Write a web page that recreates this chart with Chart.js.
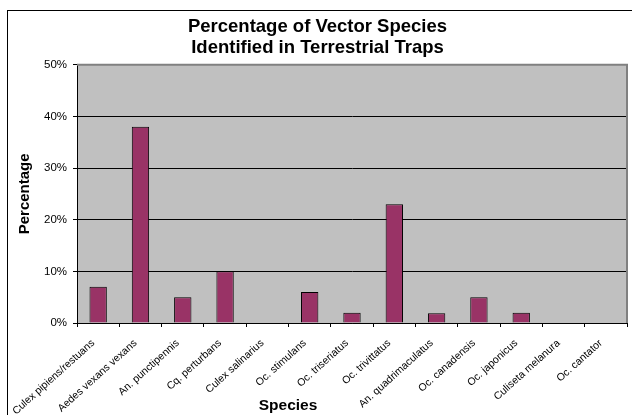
<!DOCTYPE html>
<html>
<head>
<meta charset="utf-8">
<script src="https://cdn.jsdelivr.net/npm/chart.js@4.4.0/dist/chart.umd.min.js"></script>
<style>
  html, body { margin: 0; padding: 0; background: #fff; }
  canvas { display: block; }
</style>
</head>
<body>
<canvas id="chart" width="632" height="415"></canvas>
<script>
// values
const species = ['Culex pipiens/restuans', 'Aedes vexans vexans', 'An. punctipennis', 'Cq. perturbans',
  'Culex salinarius', 'Oc. stimulans', 'Oc. triseriatus', 'Oc. trivittatus', 'An. quadrimaculatus',
  'Oc. canadensis', 'Oc. japonicus', 'Culiseta melanura', 'Oc. cantator'];
const percentages = [7, 38, 5, 10, 0, 6, 2, 23, 1.9, 5, 2, 0, 0];
const yTicks = [0, 10, 20, 30, 40, 50];
const titleLines = ['Percentage of Vector Species', 'Identified in Terrestrial Traps'];

const FONT = "'Liberation Sans', Arial, sans-serif";

// grey plot background and the outer frame
const backdrop = {
  id: 'backdrop',
  beforeDraw(chart) {
    const c = chart.ctx, a = chart.chartArea;
    c.save();
    c.fillStyle = '#fff';
    c.fillRect(0, 0, chart.width, chart.height);
    c.strokeStyle = '#000';
    c.lineWidth = 1;
    c.strokeRect(7.5, 10.5, chart.width + 10, chart.height + 10);
    c.fillStyle = '#c0c0c0';
    c.fillRect(a.left, a.top, a.right - a.left, a.bottom - a.top);
    c.restore();
  },
  afterDraw(chart) {
    const c = chart.ctx, a = chart.chartArea;
    c.save();
    c.strokeStyle = '#808080';
    c.lineWidth = 2;
    c.beginPath();
    c.moveTo(a.left, a.top);
    c.lineTo(a.right, a.top);
    c.lineTo(a.right, a.bottom);
    c.stroke();
    // x axis title, placed like the original (not centred on the plot)
    c.fillStyle = '#000';
    c.font = 'bold 15.5px ' + FONT;
    c.textAlign = 'center';
    c.textBaseline = 'middle';
    c.fillText('Species', 288, 406);
    c.restore();
  }
};

new Chart(document.getElementById('chart'), {
  type: 'bar',
  data: {
    labels: species,
    datasets: [{
      data: percentages,
      backgroundColor: '#993366',
      borderColor: '#000',
      borderWidth: 1,
      barPercentage: 0.41,
      categoryPercentage: 1
    }]
  },
  options: {
    responsive: false,
    animation: false,
    layout: { padding: { left: 8, top: 10, right: 5, bottom: 0 } },
    plugins: {
      legend: { display: false },
      tooltip: { enabled: false },
      title: {
        display: true,
        text: titleLines,
        color: '#000',
        font: { family: FONT, size: 18.5, weight: 'bold', lineHeight: 1.1 },
        padding: { top: 7, bottom: 7 }
      }
    },
    scales: {
      x: {
        afterFit(scale) { scale.height = 92; },
        grid: { display: true, drawOnChartArea: false, offset: true, tickLength: 4, color: '#000' },
        border: { color: '#000', width: 1 },
        ticks: {
          color: '#000',
          font: { family: FONT, size: 10.5 },
          autoSkip: false,
          minRotation: 42,
          maxRotation: 42,
          padding: 10,
          labelOffset: -5
        }
      },
      y: {
        min: 0,
        max: 50,
        afterFit(scale) { scale.width = 69; },
        afterBuildTicks(scale) { scale.ticks = yTicks.map(v => ({ value: v })); },
        grid: { color: '#000', tickLength: 4, lineWidth: 1 },
        border: { color: '#000', width: 1 },
        ticks: {
          color: '#000',
          font: { family: FONT, size: 11.5 },
          padding: 6,
          callback: v => v + '%'
        },
        title: {
          display: true,
          text: 'Percentage',
          color: '#000',
          font: { family: FONT, size: 15, weight: 'bold' },
          padding: { top: 8, bottom: 0 }
        }
      }
    }
  },
  plugins: [backdrop]
});
</script>
</body>
</html>
